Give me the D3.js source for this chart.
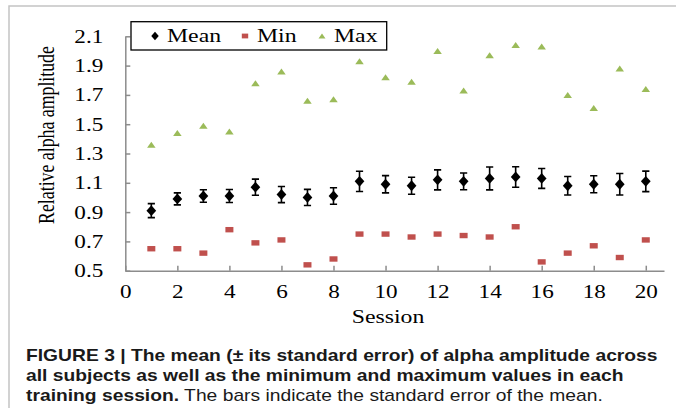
<!DOCTYPE html>
<html>
<head>
<meta charset="utf-8">
<script src="https://cdn.jsdelivr.net/npm/d3@7/dist/d3.min.js"></script>
<style>
  html, body { margin: 0; padding: 0; background: #fff; }
  svg { display: block; }
</style>
</head>
<body>
<svg id="chart" width="676" height="408"></svg>
<script>
// Training sessions 1..20
const sessions = d3.range(1, 21);
// Mean relative alpha amplitude across subjects, with its standard error
const meanValues = [0.91, 0.99, 1.01, 1.01, 1.07, 1.02, 1.00, 1.01, 1.11, 1.09,
                    1.08, 1.12, 1.11, 1.13, 1.14, 1.13, 1.08, 1.09, 1.09, 1.11];
const stdErr =     [0.048, 0.041, 0.043, 0.044, 0.055, 0.055, 0.055, 0.056, 0.069, 0.059,
                    0.058, 0.068, 0.057, 0.078, 0.070, 0.068, 0.063, 0.058, 0.073, 0.070];
// Minimum and maximum values per session
const minValues =  [0.65, 0.65, 0.62, 0.78, 0.69, 0.71, 0.54, 0.58, 0.75, 0.75,
                    0.73, 0.75, 0.74, 0.73, 0.80, 0.56, 0.62, 0.67, 0.59, 0.71];
const maxValues =  [1.36, 1.44, 1.49, 1.45, 1.78, 1.86, 1.66, 1.67, 1.93, 1.82,
                    1.79, 2.00, 1.73, 1.97, 2.04, 2.03, 1.70, 1.61, 1.88, 1.74];
// Axis ticks
const yTicks = [0.5, 0.7, 0.9, 1.1, 1.3, 1.5, 1.7, 1.9, 2.1];
const xTicks = [0, 2, 4, 6, 8, 10, 12, 14, 16, 18, 20];
const legendItems = ["Mean", "Min", "Max"];

const svg = d3.select("#chart");
const serif = "'Liberation Serif', 'Times New Roman', serif";
const stretch = 1.22;   // wide lettering

// thin page frame
svg.append("path")
  .attr("d", "M9,408 V6 H676")
  .attr("fill", "none").attr("stroke", "#c4c4c4").attr("stroke-width", 1.5);

const x = d3.scaleLinear().domain([0, 20.7]).range([125.3, 664]);
const y = d3.scaleLinear().domain([0.5, 2.1]).range([270.7, 36.3]);

const axisColor = "#8c8c8c";

// Y axis
const gy = svg.append("g").attr("transform", `translate(${x(0)},0)`)
  .call(d3.axisLeft(y).tickValues(yTicks).tickFormat(d3.format(".1f"))
        .tickSizeInner(-5).tickSizeOuter(0).tickPadding(22));
gy.select(".domain").attr("stroke", axisColor).attr("stroke-width", 1.5);
gy.selectAll(".tick line").attr("stroke", axisColor).attr("stroke-width", 1.5);
gy.selectAll(".tick text")
  .attr("x", null)
  .attr("transform", `translate(-22,0) scale(${stretch},1)`)
  .attr("font-family", serif).attr("font-size", 19).attr("fill", "#000");

// X axis
const gx = svg.append("g").attr("transform", `translate(0,${y(0.5)})`)
  .call(d3.axisBottom(x).tickValues(xTicks).tickFormat(d3.format("d"))
        .tickSizeInner(-5).tickSizeOuter(0).tickPadding(14));
gx.select(".domain").attr("stroke", axisColor).attr("stroke-width", 1.5);
gx.selectAll(".tick line").attr("stroke", axisColor).attr("stroke-width", 1.5);
gx.selectAll(".tick text")
  .attr("y", null).attr("dy", null)
  .attr("transform", `translate(0,27.5) scale(${stretch},1)`)
  .attr("font-family", serif).attr("font-size", 19).attr("fill", "#000");

// Axis titles
svg.append("text")
  .attr("transform", `translate(388,323) scale(1.25,1)`)
  .attr("text-anchor", "middle")
  .attr("font-family", serif).attr("font-size", 19)
  .text("Session");

svg.append("text")
  .attr("transform", `translate(54,135) scale(1.3,1) rotate(-90)`)
  .attr("text-anchor", "middle")
  .attr("font-family", serif).attr("font-size", 17.8)
  .text("Relative alpha amplitude");

// Marker shapes
const diamond = s => `M0,${-s} L${s * 0.9},0 L0,${s} L${-s * 0.9},0 Z`;
const triangle = (w, h) => `M0,${-h / 2} L${w / 2},${h / 2} L${-w / 2},${h / 2} Z`;

const red = "#c0504d", green = "#9bbb59";

// Max triangles
svg.append("g").selectAll("path").data(sessions).join("path")
  .attr("transform", (d, i) => `translate(${x(d)},${y(maxValues[i])})`)
  .attr("d", triangle(8.5, 6))
  .attr("fill", green);

// Min squares
svg.append("g").selectAll("rect").data(sessions).join("rect")
  .attr("x", d => x(d) - 4).attr("y", (d, i) => y(minValues[i]) - 2.7)
  .attr("width", 8).attr("height", 5.4)
  .attr("fill", red);

// Mean error bars
const eb = svg.append("g").attr("stroke", "#000").attr("stroke-width", 1.6).attr("fill", "none");
sessions.forEach((d, i) => {
  const cx = x(d), top = y(meanValues[i] + stdErr[i]), bot = y(meanValues[i] - stdErr[i]);
  eb.append("path").attr("d", `M${cx},${top} V${bot} M${cx - 3.6},${top} H${cx + 3.6} M${cx - 3.6},${bot} H${cx + 3.6}`);
});

// Mean diamonds
svg.append("g").selectAll("path").data(sessions).join("path")
  .attr("transform", (d, i) => `translate(${x(d)},${y(meanValues[i])})`)
  .attr("d", diamond(5.4))
  .attr("fill", "#000");

// Legend
const lg = svg.append("g");
lg.append("rect").attr("x", 131).attr("y", 21.7).attr("width", 255.7).attr("height", 28.3)
  .attr("fill", "#fff").attr("stroke", "#000").attr("stroke-width", 1.3);
const legendX = [155, 245, 322];
legendItems.forEach((name, i) => {
  const cx = legendX[i], cy = 36;
  if (i === 0) lg.append("path").attr("transform", `translate(${cx},${cy})`).attr("d", diamond(4.2)).attr("fill", "#000");
  if (i === 1) lg.append("rect").attr("x", cx - 3.2).attr("y", cy - 2.4).attr("width", 6.4).attr("height", 4.8).attr("fill", red);
  if (i === 2) lg.append("path").attr("transform", `translate(${cx},${cy})`).attr("d", triangle(7, 5)).attr("fill", green);
  lg.append("text")
    .attr("transform", `translate(${cx + 12},41.7) scale(1.25,1)`)
    .attr("font-family", serif).attr("font-size", 19)
    .text(name);
});

// Caption
const sans = "'Liberation Sans', Arial, Helvetica, sans-serif";
const capScale = 1.205;
const cap = svg.append("g").attr("font-family", sans).attr("font-size", 16).attr("fill", "#1a1a1a");
cap.append("text").attr("transform", `translate(26,361) scale(${capScale},1)`).attr("font-weight", "bold")
  .text("FIGURE 3 | The mean (\u00b1 its standard error) of alpha amplitude across");
cap.append("text").attr("transform", `translate(26,381) scale(${capScale},1)`).attr("font-weight", "bold")
  .text("all subjects as well as the minimum and maximum values in each");
const l3 = cap.append("text").attr("transform", `translate(26,401) scale(${capScale},1)`);
l3.append("tspan").attr("font-weight", "bold").text("training session.");
l3.append("tspan").text(" The bars indicate the standard error of the mean.");
</script>
</body>
</html>
